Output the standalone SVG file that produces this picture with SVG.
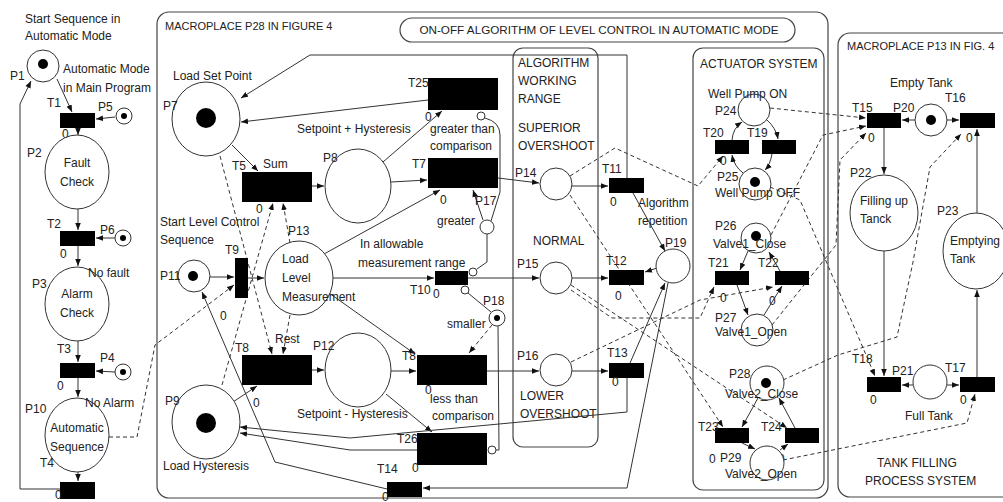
<svg xmlns="http://www.w3.org/2000/svg" width="1003" height="502" viewBox="0 0 1003 502">
<defs>
<marker id="ah" viewBox="0 0 10 10" refX="10" refY="5" markerWidth="7" markerHeight="7" orient="auto" markerUnits="userSpaceOnUse"><path d="M0,1 L10,5 L0,9 z" fill="#111"/></marker>
</defs>
<style>
.pl{fill:#fff;stroke:#333;stroke-width:1}
.tr{fill:#000}
.tk{fill:#000}
.ln{fill:none;stroke:#333;stroke-width:1}
.ar{fill:none;stroke:#333;stroke-width:1;marker-end:url(#ah)}
.ds{fill:none;stroke:#333;stroke-width:1;stroke-dasharray:4 3;marker-end:url(#ah)}
.ih{fill:#fff;stroke:#333;stroke-width:1}
.box{fill:none;stroke:#444;stroke-width:1.2}
text{font-family:"Liberation Sans",Arial,sans-serif;font-size:12px;fill:#222}
.s11{font-size:11px}
.c{text-anchor:middle}
</style>
<rect width="1003" height="502" fill="#fff"/>
<g id="frames">
<rect class="box" x="157" y="12" width="671" height="486" rx="12"/>
<rect class="box" x="400" y="18" width="395" height="24" rx="12"/>
<rect class="box" x="513" y="48" width="85" height="399" rx="10"/>
<rect class="box" x="693" y="48" width="131" height="442" rx="10"/>
<rect class="box" x="838" y="33" width="180" height="464" rx="12"/>
<text class="s11" x="165" y="30">MACROPLACE P28 IN FIGURE 4</text>
<text x="599" y="34" class="c" style="font-size:11.7px">ON-OFF ALGORITHM OF LEVEL CONTROL IN AUTOMATIC MODE</text>
<text x="518" y="67">ALGORITHM</text><text x="518" y="85">WORKING</text><text x="518" y="103">RANGE</text>
<text x="518" y="132">SUPERIOR</text><text x="518" y="150">OVERSHOOT</text>
<text x="533" y="245">NORMAL</text>
<text x="520" y="400">LOWER</text><text x="520" y="418">OVERSHOOT</text>
<text x="700" y="68">ACTUATOR SYSTEM</text>
<text class="s11" x="847" y="50">MACROPLACE P13 IN FIG. 4</text>
<text x="877" y="467">TANK FILLING</text><text x="865" y="485">PROCESS SYSTEM</text>
<text x="25" y="23">Start Sequence in</text><text x="25" y="40">Automatic Mode</text>
<text x="160" y="226">Start Level Control</text><text x="160" y="244">Sequence</text>
</g>
<g id="connectors">
<path class="ar" d="M57,79 L72,112"/>
<path class="ar" d="M115,117 L96,119"/>
<path class="ar" d="M78,128 L78,135"/>
<path class="ar" d="M78,209 L78,230"/>
<path class="ar" d="M115,238 L96,238"/>
<path class="ar" d="M78,246 L78,266"/>
<path class="ar" d="M78,341 L78,362"/>
<path class="ar" d="M115,372 L96,371"/>
<path class="ar" d="M78,378 L78,397"/>
<path class="ar" d="M78,472 L78,481"/>
<path class="ar" d="M60,489 L20,489 L20,104 L31,81"/>
<path class="ds" d="M109,437 L137,437 L155,345 L234,285"/>
<path class="ar" d="M232,145 L258,171"/>
<path class="ar" d="M312,186 L324,186"/>
<path class="ar" d="M383,162 L442,111"/>
<path class="ar" d="M428,100 L241,122"/>
<path class="ar" d="M391,182 L427,180"/>
<path class="ar" d="M498,178 L539,183"/>
<path class="ar" d="M483,220 L473,190"/>
<path class="ln" d="M491,221 L500,192 L500,135 Q500,122 485,118"/>
<path class="ln" d="M487,234 L487,262 L477,269"/>
<path class="ln" d="M491,312 L468,293"/>
<path class="ds" d="M492,325 L469,353"/>
<path class="ln" d="M498,326 L499,450 L496,450"/>
<path class="ar" d="M210,277 L234,277"/>
<path class="ar" d="M248,278 L264,278"/>
<path class="ar" d="M333,278 L434,278"/>
<path class="ar" d="M324,254 L440,190"/>
<path class="ar" d="M329,293 L415,354"/>
<path class="ar" d="M312,370 L324,370"/>
<path class="ar" d="M233,402 L257,386"/>
<path class="ar" d="M391,371 L416,371"/>
<path class="ar" d="M386,394 L432,432"/>
<path class="ar" d="M417,450 L350,450 L240,433"/>
<path class="ar" d="M627,378 L627,412 L350,438 L240,427"/>
<path class="ar" d="M387,489 L275,462 L202,292"/>
<path class="ar" d="M668,283 L627,488 L423,488"/>
<path class="ar" d="M627,178 L627,55 L310,55 L241,98"/>
<path class="ar" d="M468,278 L539,278"/>
<path class="ar" d="M572,186 L608,186"/>
<path class="ar" d="M572,278 L608,278"/>
<path class="ar" d="M657,268 L645,272"/>
<path class="ar" d="M487,371 L539,371"/>
<path class="ar" d="M572,371 L608,371"/>
<path class="ar" d="M633,193 L665,251"/>
<path class="ar" d="M630,363 L665,283"/>
<path class="ds" d="M220,156 L272,354"/>
<path class="ds" d="M222,385 L273,203"/>
<path class="ds" d="M290,243 L283,203"/>
<path class="ds" d="M290,315 L283,354"/>
<path class="ds" d="M570,176 L615,148 L698,186 L723,156"/>
<path class="ds" d="M570,195 L723,427"/>
<path class="ds" d="M571,285 L787,428"/>
<path class="ds" d="M571,290 L612,318 L700,318 L714,287"/>
<path class="ds" d="M571,362 L700,300 L773,287"/>
<path class="ds" d="M770,108 L866,118"/>
<path class="ds" d="M771,235 L823,135 L866,126"/>
<path class="ds" d="M772,325 L836,245 L840,160 L866,133"/>
<path class="ds" d="M770,187 L800,200 L875,376"/>
<path class="ds" d="M783,380 L838,355 L897,337 L913,262 L930,167 L961,134"/>
<path class="ds" d="M783,460 L967,423 L975,394"/>
<path class="ar" d="M732,140 Q733,128 742,122"/>
<path class="ar" d="M767,120 Q776,128 778,139"/>
<path class="ar" d="M772,154 Q770,165 765,170"/>
<path class="ar" d="M743,173 Q734,166 732,155"/>
<path class="ar" d="M748,251 L740,270"/>
<path class="ar" d="M780,271 L769,252"/>
<path class="ar" d="M737,285 L748,315"/>
<path class="ar" d="M764,315 L782,286"/>
<path class="ar" d="M758,398 L742,427"/>
<path class="ar" d="M795,428 L779,398"/>
<path class="ar" d="M742,443 L755,449"/>
<path class="ar" d="M780,450 L788,444"/>
<path class="ar" d="M915,120 L902,120"/>
<path class="ar" d="M947,120 L959,120"/>
<path class="ar" d="M884,128 L884,174"/>
<path class="ar" d="M884,251 L884,376"/>
<path class="ar" d="M977,213 L977,129"/>
<path class="ar" d="M977,377 L977,290"/>
<path class="ar" d="M913,385 L902,385"/>
<path class="ar" d="M947,385 L959,385"/>
<circle class="ih" cx="481" cy="116" r="4"/>
<circle class="ih" cx="473" cy="272" r="4"/>
<circle class="ih" cx="465" cy="290" r="4"/>
<circle class="ih" cx="492" cy="450" r="4"/>
</g>
<g id="P1"><circle class="pl" cx="43" cy="66" r="16"/><circle class="tk" cx="43" cy="64" r="5"/><text x="10" y="80">P1</text><text x="63" y="73">Automatic Mode</text><text x="63" y="92">in Main Program</text></g>
<g id="T1"><rect class="tr" x="60" y="113" width="35" height="15"/><text x="47" y="107">T1</text><text x="62" y="138">0</text></g>
<g id="P5"><circle class="pl" cx="124" cy="116" r="8"/><circle class="tk" cx="124" cy="116" r="3"/><text x="98" y="111">P5</text></g>
<g id="P2"><ellipse class="pl" cx="77" cy="172" rx="32" ry="37"/><text x="27" y="157">P2</text><text class="c" x="77" y="167">Fault</text><text class="c" x="77" y="186">Check</text></g>
<g id="T2"><rect class="tr" x="60" y="231" width="35" height="15"/><text x="47" y="228">T2</text><text x="60" y="258">0</text></g>
<g id="P6"><circle class="pl" cx="123" cy="238" r="8"/><circle class="tk" cx="123" cy="238" r="3"/><text x="100" y="234">P6</text></g>
<g id="P3"><ellipse class="pl" cx="77" cy="304" rx="32" ry="37"/><text x="32" y="288">P3</text><text x="88" y="277">No fault</text><text class="c" x="77" y="298">Alarm</text><text class="c" x="77" y="317">Check</text></g>
<g id="T3"><rect class="tr" x="60" y="363" width="35" height="15"/><text x="57" y="353">T3</text><text x="57" y="390">0</text></g>
<g id="P4"><circle class="pl" cx="123" cy="372" r="8"/><circle class="tk" cx="123" cy="372" r="3"/><text x="100" y="362">P4</text></g>
<g id="P10"><ellipse class="pl" cx="77" cy="435" rx="32" ry="37"/><text x="25" y="413">P10</text><text x="85" y="407">No Alarm</text><text class="c" x="77" y="432">Automatic</text><text class="c" x="77" y="451">Sequence</text></g>
<g id="T4"><rect class="tr" x="60" y="482" width="35" height="17"/><text x="40" y="467">T4</text><text x="55" y="499">0</text></g>
<g id="P7"><ellipse class="pl" cx="206" cy="119" rx="34" ry="37"/><circle class="tk" cx="206" cy="118" r="10"/><text x="173" y="80">Load Set Point</text><text x="163" y="110">P7</text></g>
<g id="T5"><rect class="tr" x="242" y="172" width="70" height="30"/><text x="232" y="170">T5</text><text x="263" y="168">Sum</text><text x="256" y="213">0</text></g>
<g id="P8"><ellipse class="pl" cx="358" cy="186" rx="33" ry="37"/><text x="323" y="162">P8</text><text x="297" y="133">Setpoint + Hysteresis</text></g>
<g id="T25"><rect class="tr" x="428" y="78" width="70" height="32"/><text x="408" y="87">T25</text><text x="425" y="121">0</text><text x="430" y="133">greater than</text><text x="430" y="150">comparison</text></g>
<g id="T7"><rect class="tr" x="428" y="158" width="70" height="30"/><text x="412" y="168">T7</text><text x="440" y="204">0</text></g>
<g id="P17"><circle class="pl" cx="487" cy="227" r="7"/><text x="475" y="205">P17</text><text x="437" y="225">greater</text></g>
<g id="P11"><circle class="pl" cx="194" cy="276" r="16"/><circle class="tk" cx="193" cy="276" r="5"/><text x="160" y="280">P11</text></g>
<g id="T9"><rect class="tr" x="235" y="258" width="13" height="40"/><text x="225" y="254">T9</text><text x="220" y="320">0</text></g>
<g id="P13"><ellipse class="pl" cx="299" cy="278" rx="34" ry="37"/><text x="288" y="235">P13</text><text x="282" y="263">Load</text><text x="282" y="282">Level</text><text x="282" y="301">Measurement</text></g>
<g id="T10"><rect class="tr" x="435" y="271" width="33" height="14"/><text x="360" y="248">In allowable</text><text x="358" y="267">measurement range</text><text x="410" y="294">T10</text><text x="433" y="298">0</text></g>
<g id="P18"><circle class="pl" cx="497" cy="318" r="8"/><circle class="tk" cx="497" cy="318" r="3"/><text x="483" y="305">P18</text><text x="447" y="328">smaller</text></g>
<g id="T8a"><rect class="tr" x="242" y="355" width="70" height="30"/><text x="235" y="352">T8</text><text x="275" y="343">Rest</text><text x="253" y="407">0</text></g>
<g id="P12"><ellipse class="pl" cx="358" cy="370" rx="33" ry="37"/><text x="313" y="350">P12</text><text x="297" y="418">Setpoint - Hysteresis</text></g>
<g id="T8b"><rect class="tr" x="417" y="355" width="70" height="30"/><text x="402" y="360">T8</text><text x="425" y="394">0</text><text x="430" y="403">less than</text><text x="432" y="420">comparison</text></g>
<g id="T26"><rect class="tr" x="417" y="433" width="70" height="32"/><text x="397" y="443">T26</text><text x="412" y="472">0</text></g>
<g id="P9"><ellipse class="pl" cx="206" cy="422" rx="34" ry="37"/><circle class="tk" cx="206" cy="423" r="10"/><text x="165" y="405">P9</text><text x="163" y="470">Load Hysteresis</text></g>
<g id="T14"><rect class="tr" x="387" y="482" width="35" height="15"/><text x="377" y="473">T14</text><text x="382" y="501">0</text></g>
<g id="P14"><circle class="pl" cx="556" cy="184" r="16"/><text x="515" y="177">P14</text></g>
<g id="T11"><rect class="tr" x="609" y="178" width="35" height="15"/><text x="602" y="173">T11</text><text x="610" y="206">0</text></g>
<g id="P15"><circle class="pl" cx="556" cy="278" r="16"/><text x="517" y="268">P15</text></g>
<g id="T12"><rect class="tr" x="609" y="270" width="35" height="15"/><text x="606" y="265">T12</text><text x="615" y="300">0</text></g>
<g id="P16"><circle class="pl" cx="556" cy="370" r="16"/><text x="517" y="360">P16</text></g>
<g id="T13"><rect class="tr" x="609" y="363" width="35" height="15"/><text x="607" y="357">T13</text><text x="612" y="386">0</text></g>
<g id="P19"><circle class="pl" cx="673" cy="266" r="17"/><text x="665" y="247">P19</text><text x="638" y="207">Algorithm</text><text x="638" y="225">repetition</text></g>
<g id="P24"><circle class="pl" cx="754" cy="110" r="16"/><text x="708" y="98">Well Pump ON</text><text x="715" y="115">P24</text></g>
<g id="T20"><rect class="tr" x="715" y="140" width="34" height="14"/><text x="703" y="137">T20</text><text x="720" y="165">0</text></g>
<g id="T19"><rect class="tr" x="762" y="140" width="34" height="14"/><text x="747" y="137">T19</text></g>
<g id="P25"><circle class="pl" cx="755" cy="184" r="16"/><circle class="tk" cx="755" cy="182" r="5"/><text x="717" y="181">P25</text><text x="715" y="197">Well Pump OFF</text></g>
<g id="P26"><circle class="pl" cx="756" cy="238" r="15"/><circle class="tk" cx="756" cy="236" r="5"/><text x="715" y="230">P26</text><text x="713" y="248">Valve1_Close</text></g>
<g id="T21"><rect class="tr" x="715" y="271" width="34" height="14"/><text x="708" y="267">T21</text><text x="720" y="302">0</text></g>
<g id="T22"><rect class="tr" x="775" y="271" width="34" height="14"/><text x="758" y="267">T22</text><text x="769" y="305">0</text></g>
<g id="P27"><circle class="pl" cx="757" cy="330" r="16"/><text x="715" y="322">P27</text><text x="715" y="336">Valve1_Open</text></g>
<g id="P28"><circle class="pl" cx="767" cy="383" r="17"/><circle class="tk" cx="766" cy="383" r="5"/><text x="729" y="378">P28</text><text x="725" y="398">Valve2_Close</text></g>
<g id="T23"><rect class="tr" x="715" y="428" width="34" height="15"/><text x="698" y="431">T23</text><text x="709" y="463">0</text></g>
<g id="T24"><rect class="tr" x="785" y="428" width="34" height="15"/><text x="761" y="431">T24</text><text x="778" y="463">0</text></g>
<g id="P29"><circle class="pl" cx="767" cy="463" r="17"/><text x="720" y="462">P29</text><text x="725" y="478">Valve2_Open</text></g>
<g id="T15"><rect class="tr" x="867" y="113" width="34" height="15"/><text x="852" y="112">T15</text><text x="868" y="142">0</text></g>
<g id="P20"><circle class="pl" cx="931" cy="120" r="16"/><circle class="tk" cx="931" cy="120" r="5"/><text x="890" y="87">Empty Tank</text><text x="893" y="112">P20</text></g>
<g id="T16"><rect class="tr" x="960" y="113" width="35" height="15"/><text x="945" y="102">T16</text><text x="966" y="142">0</text></g>
<g id="P22"><ellipse class="pl" cx="884" cy="213" rx="34" ry="38"/><text x="850" y="177">P22</text><text x="860" y="205">Filling up</text><text x="860" y="223">Tanck</text></g>
<g id="P23"><ellipse class="pl" cx="976" cy="251" rx="33" ry="38"/><text x="937" y="215">P23</text><text x="950" y="245">Emptying</text><text x="950" y="263">Tank</text></g>
<g id="T18"><rect class="tr" x="867" y="377" width="34" height="15"/><text x="852" y="363">T18</text><text x="870" y="404">0</text></g>
<g id="P21"><circle class="pl" cx="930" cy="382" r="17"/><text x="892" y="375">P21</text><text x="905" y="420">Full Tank</text></g>
<g id="T17"><rect class="tr" x="960" y="377" width="35" height="15"/><text x="945" y="372">T17</text><text x="960" y="404">0</text></g>
</svg>
